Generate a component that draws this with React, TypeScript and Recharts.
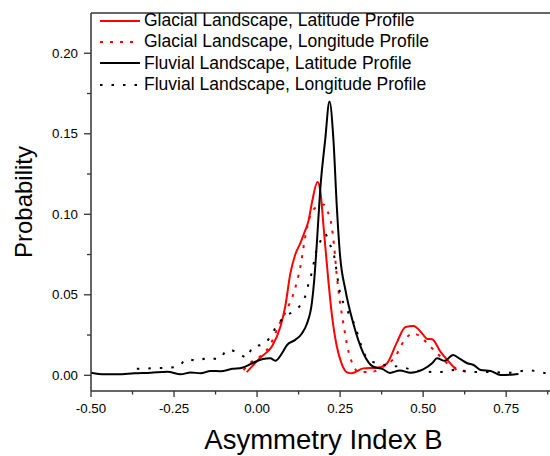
import { LineChart, Line, XAxis, YAxis, ReferenceLine } from "recharts";

// values (Asymmetry Index B vs probability)
const glacialLatB = [-0.031, 0.01, 0.045, 0.07, 0.085, 0.1, 0.115, 0.13, 0.145, 0.155, 0.165, 0.182, 0.19, 0.202, 0.215, 0.225, 0.24, 0.255, 0.27, 0.285, 0.3, 0.32, 0.361, 0.391, 0.42, 0.447, 0.471, 0.497, 0.512, 0.527, 0.552, 0.577, 0.6];
const glacialLatP = [0.002, 0.011, 0.018, 0.03, 0.043, 0.063, 0.075, 0.082, 0.09, 0.096, 0.107, 0.12, 0.115, 0.088, 0.058, 0.038, 0.018, 0.007, 0.002, 0.0012, 0.0025, 0.0043, 0.0047, 0.0074, 0.02, 0.03, 0.0306, 0.026, 0.0226, 0.0224, 0.0147, 0.0085, 0.0033];

const glacialLonB = [-0.041, -0.01, 0.015, 0.04, 0.065, 0.09, 0.113, 0.13, 0.145, 0.16, 0.182, 0.2, 0.212, 0.225, 0.232, 0.24, 0.25, 0.26, 0.275, 0.29, 0.305, 0.34, 0.38, 0.416, 0.441, 0.47, 0.492, 0.517, 0.542, 0.572, 0.612, 0.643];
const glacialLonP = [0.0033, 0.0095, 0.0126, 0.019, 0.031, 0.041, 0.053, 0.067, 0.086, 0.099, 0.105, 0.106, 0.102, 0.092, 0.08, 0.062, 0.045, 0.032, 0.015, 0.006, 0.0022, 0.002, 0.0053, 0.0116, 0.021, 0.026, 0.024, 0.0188, 0.0137, 0.0075, 0.0033, 0.0012];

const fluvialLatB = [-0.5, -0.46, -0.42, -0.37, -0.32, -0.27, -0.23, -0.2, -0.17, -0.14, -0.11, -0.075, -0.045, -0.015, 0.015, 0.04, 0.055, 0.075, 0.09, 0.115, 0.135, 0.15, 0.165, 0.172, 0.18, 0.19, 0.205, 0.218, 0.23, 0.24, 0.25, 0.266, 0.29, 0.32, 0.35, 0.377, 0.4, 0.43, 0.462, 0.5, 0.527, 0.542, 0.565, 0.59, 0.612, 0.633, 0.652, 0.673, 0.703, 0.733, 0.773, 0.787];
const fluvialLatP = [0.0016, 0.0006, 0.0006, 0.0012, 0.0016, 0.0022, 0.0006, 0.0018, 0.0012, 0.0027, 0.0025, 0.004, 0.0047, 0.0075, 0.01, 0.0106, 0.009, 0.0137, 0.0188, 0.022, 0.026, 0.032, 0.045, 0.059, 0.082, 0.115, 0.146, 0.17, 0.146, 0.105, 0.074, 0.053, 0.032, 0.0137, 0.0053, 0.004, 0.0015, 0.003, 0.0016, 0.0037, 0.0075, 0.0106, 0.009, 0.0126, 0.01, 0.0075, 0.0064, 0.0033, 0.0027, 0.0002, 0.0005, 0.0008];

const fluvialLonB = [-0.362, -0.3, -0.268, -0.238, -0.212, -0.178, -0.147, -0.117, -0.087, -0.058, -0.031, -0.012, 0.018, 0.04, 0.06, 0.088, 0.112, 0.135, 0.148, 0.155, 0.165, 0.178, 0.19, 0.205, 0.217, 0.23, 0.25, 0.27, 0.296, 0.311, 0.33, 0.361, 0.4, 0.431, 0.47, 0.542, 0.6, 0.652, 0.712, 0.75, 0.817, 0.878];
const fluvialLonP = [0.004, 0.0045, 0.0047, 0.0053, 0.01, 0.009, 0.011, 0.01, 0.016, 0.014, 0.011, 0.018, 0.019, 0.024, 0.031, 0.037, 0.04, 0.045, 0.051, 0.057, 0.064, 0.077, 0.083, 0.088, 0.082, 0.076, 0.051, 0.041, 0.03, 0.02, 0.011, 0.0075, 0.006, 0.0053, 0.0033, 0.002, 0.0033, 0.002, 0.002, 0.0015, 0.003, 0.0008];

const xTicks = [-0.5, -0.375, -0.25, -0.125, 0, 0.125, 0.25, 0.375, 0.5, 0.625, 0.75, 0.875];
const yTicks = [0, 0.025, 0.05, 0.075, 0.1, 0.125, 0.15, 0.175, 0.2];

const toPoints = (b: number[], p: number[]) => b.map((x, i) => ({ x, y: p[i] }));

const series = [
  { name: "Glacial Landscape, Latitude Profile", data: toPoints(glacialLatB, glacialLatP), color: "#ff0000", dash: undefined },
  { name: "Glacial Landscape, Longitude Profile", data: toPoints(glacialLonB, glacialLonP), color: "#ff0000", dash: "3 7" },
  { name: "Fluvial Landscape, Latitude Profile", data: toPoints(fluvialLatB, fluvialLatP), color: "#000000", dash: undefined },
  { name: "Fluvial Landscape, Longitude Profile", data: toPoints(fluvialLonB, fluvialLonP), color: "#000000", dash: "2.5 9" },
];

const font = "Arial, 'Liberation Sans', sans-serif";
const axisColor = "#333";

function XTick(props: any) {
  const { x, y, payload } = props;
  const v = payload.value;
  const major = Math.abs(v * 4 - Math.round(v * 4)) < 1e-6;
  return (
    <g>
      <line x1={x} x2={x} y1={y} y2={y + (major ? 6 : 3.5)} stroke={axisColor} strokeWidth={1.3} />
      {major && (
        <text x={x} y={y + 22} textAnchor="middle" fontSize={13.3} fontFamily={font} fill="#000">
          {v.toFixed(2)}
        </text>
      )}
    </g>
  );
}

function YTick(props: any) {
  const { x, y, payload } = props;
  const v = payload.value;
  const major = Math.abs(v * 20 - Math.round(v * 20)) < 1e-6;
  return (
    <g>
      <line x1={x - (major ? 7 : 4)} x2={x} y1={y} y2={y} stroke={axisColor} strokeWidth={1.3} />
      {major && (
        <text x={x - 13} y={y + 4.5} textAnchor="end" fontSize={13.3} fontFamily={font} fill="#000">
          {v.toFixed(2)}
        </text>
      )}
    </g>
  );
}

function YTitle(props: any) {
  const { viewBox } = props;
  const cy = viewBox.y + viewBox.height / 2;
  return (
    <text transform={`translate(32, ${cy}) rotate(-90)`} textAnchor="middle" fontSize={24} fontFamily={font} fill="#000">
      Probability
    </text>
  );
}

function XTitle(props: any) {
  const { viewBox } = props;
  const cx = viewBox.x + viewBox.width / 2;
  return (
    <text x={cx} y={449} textAnchor="middle" fontSize={27.5} fontFamily={font} fill="#000">
      Asymmetry Index B
    </text>
  );
}

function ChartLegend() {
  return (
    <div style={{ position: "absolute", left: 100, top: 10, fontFamily: font, fontSize: 17.5, color: "#000" }}>
      {series.map((s) => (
        <div key={s.name} style={{ display: "flex", alignItems: "center", height: 21.3 }}>
          <svg width={40} height={4} style={{ marginRight: 4 }}>
            <line x1={0} x2={40} y1={2} y2={2} stroke={s.color} strokeWidth={2} strokeDasharray={s.dash} />
          </svg>
          <span style={{ lineHeight: "21px" }}>{s.name}</span>
        </div>
      ))}
    </div>
  );
}

export default function App() {
  return (
    <div style={{ position: "absolute", left: 0, top: 0, width: 550, height: 456, overflow: "hidden", background: "#fff" }}>
      <LineChart width={556} height={456} margin={{ top: 13, right: 0, bottom: 0, left: 0 }}>
        <XAxis
          type="number"
          dataKey="x"
          domain={[-0.5, 0.9]}
          allowDataOverflow
          ticks={xTicks}
          interval={0}
          tickSize={0}
          tickMargin={0}
          tickLine={false}
          tick={<XTick />}
          height={65}
          axisLine={{ stroke: axisColor, strokeWidth: 1.5 }}
          label={{ content: <XTitle /> }}
        />
        <YAxis
          type="number"
          domain={[-0.00975, 0.225]}
          allowDataOverflow
          ticks={yTicks}
          interval={0}
          tickSize={0}
          tickMargin={0}
          tickLine={false}
          tick={<YTick />}
          width={91}
          axisLine={{ stroke: axisColor, strokeWidth: 1.5 }}
          label={{ content: <YTitle /> }}
        />
        <ReferenceLine y={0.225} stroke={axisColor} strokeWidth={1.5} />
        {series.map((s) => (
          <Line
            key={s.name}
            data={s.data}
            dataKey="y"
            name={s.name}
            type="monotone"
            stroke={s.color}
            strokeWidth={2}
            strokeDasharray={s.dash}
            dot={false}
            isAnimationActive={false}
          />
        ))}
      </LineChart>
      <ChartLegend />
    </div>
  );
}
